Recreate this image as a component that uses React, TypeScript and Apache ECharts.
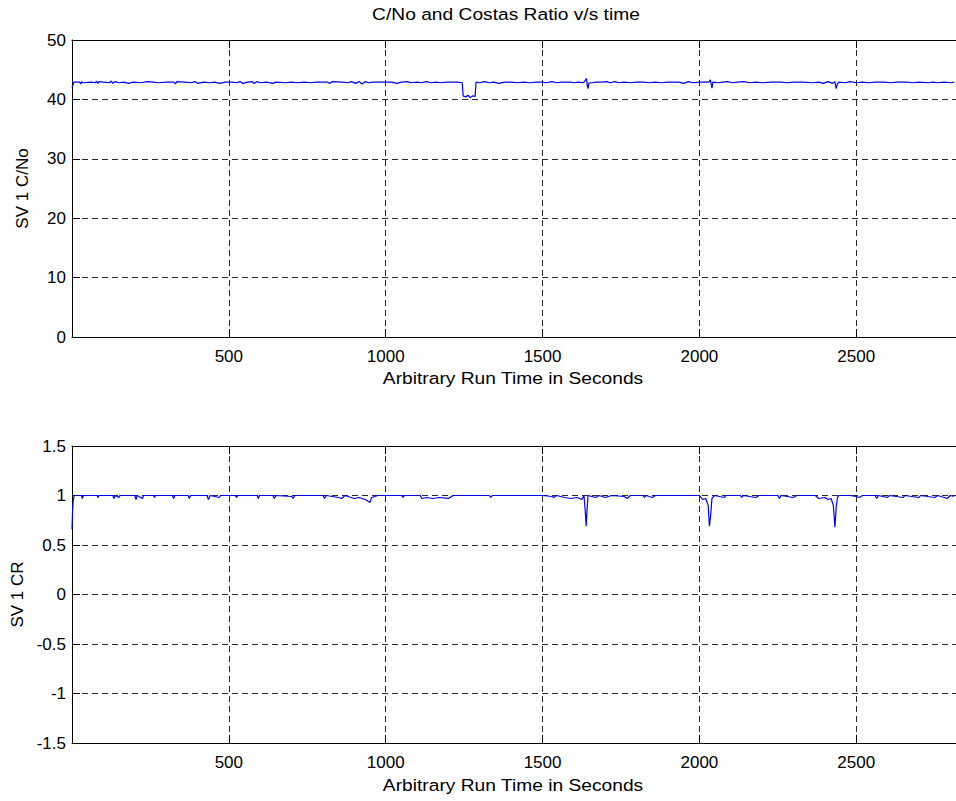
import React, { useEffect, useRef } from "react";
import * as echarts from "echarts";

const titleText = "C/No and Costas Ratio v/s time";
const xName = "Arbitrary Run Time in Seconds";
const topYName = "SV 1 C/No";
const bottomYName = "SV 1 CR";

const xTickStep = 500;
const xMin = 0;
const xMax = 2818;
const topYRange = [0, 50];
const topYStep = 10;
const bottomYRange = [-1.5, 1.5];
const bottomYStep = 0.5;

const cnoTime = [
  0, 3, 6, 25, 28, 31, 34, 60, 75, 78, 82, 86, 100, 120, 125, 130, 138, 150, 165, 180,
  195, 220, 240, 260, 275, 300, 325, 330, 334, 360, 380, 392, 400, 420, 440, 455, 470, 490, 510, 525,
  535, 545, 560, 575, 580, 590, 600, 620, 640, 650, 680, 700, 720, 740, 760, 780, 815, 822, 830, 860,
  880, 890, 905, 915, 925, 935, 945, 960, 1000, 1020, 1035, 1050, 1070, 1080, 1100, 1115, 1130, 1145, 1160, 1175,
  1195, 1230, 1244, 1247, 1255, 1262, 1270, 1278, 1285, 1288, 1300, 1315, 1330, 1345, 1360, 1380, 1400, 1420, 1440, 1460,
  1480, 1500, 1510, 1530, 1545, 1560, 1590, 1600, 1615, 1630, 1640, 1643, 1645, 1648, 1660, 1670, 1690, 1705, 1715, 1730,
  1745, 1760, 1780, 1800, 1820, 1840, 1860, 1880, 1900, 1935, 1950, 1965, 1980, 2000, 2030, 2035, 2040, 2043, 2060, 2075,
  2090, 2105, 2120, 2140, 2160, 2180, 2200, 2230, 2260, 2280, 2300, 2330, 2360, 2380, 2395, 2410, 2425, 2432, 2436, 2440,
  2445, 2465, 2480, 2500, 2520, 2540, 2560, 2590, 2610, 2630, 2660, 2680, 2700, 2730, 2745, 2760, 2780, 2800, 2812,
];
const cnoValue = [
  42.0, 42.4, 42.9, 42.9, 42.6, 43.0, 42.8, 42.9, 42.8, 43.1, 42.7, 43.0, 42.9, 42.8, 43.1, 42.7, 43.0, 42.8, 42.9, 42.7,
  42.9, 42.8, 43.0, 42.9, 42.8, 42.9, 42.9, 42.6, 43.0, 42.9, 42.8, 43.0, 42.7, 42.9, 42.8, 42.9, 42.7, 42.9, 42.9, 42.8,
  43.0, 42.7, 42.9, 43.0, 42.7, 43.0, 42.8, 42.9, 42.7, 42.9, 42.8, 42.9, 42.8, 42.9, 42.8, 42.9, 42.9, 42.7, 43.0, 42.9,
  42.8, 43.0, 42.7, 43.0, 42.6, 43.0, 42.8, 42.9, 42.9, 42.9, 42.7, 42.9, 43.0, 42.8, 42.9, 42.8, 43.0, 42.8, 42.9, 42.8,
  42.9, 42.9, 42.8, 40.6, 40.4, 40.7, 40.3, 40.6, 40.5, 42.9, 42.8, 43.0, 42.8, 42.9, 42.7, 42.9, 42.9, 42.8, 42.9, 42.8,
  42.9, 42.9, 42.8, 43.0, 42.8, 42.9, 42.9, 42.8, 42.9, 42.8, 43.5, 42.2, 41.8, 42.8, 42.8, 42.9, 42.9, 43.0, 42.8, 43.0,
  42.8, 42.9, 42.8, 42.9, 42.9, 42.8, 42.9, 42.8, 42.9, 42.9, 42.7, 43.0, 42.8, 42.9, 42.9, 43.3, 41.9, 42.9, 42.8, 42.9,
  43.0, 42.8, 42.9, 43.0, 42.8, 42.9, 42.8, 42.9, 42.9, 42.8, 42.9, 42.9, 42.8, 42.9, 42.7, 43.0, 42.7, 43.0, 41.8, 42.6,
  42.9, 42.8, 43.0, 42.8, 42.9, 42.8, 42.9, 42.9, 42.8, 42.9, 42.9, 42.8, 42.9, 42.8, 42.9, 42.8, 42.9, 42.8, 42.9,
];

const crTime = [
  0, 2, 4, 7, 30, 33, 36, 80, 83, 86, 130, 134, 138, 150, 153, 200, 204, 208, 225, 228,
  260, 263, 266, 320, 324, 328, 370, 374, 378, 430, 435, 440, 470, 473, 520, 525, 528, 590, 594, 598,
  640, 645, 650, 700, 705, 710, 800, 805, 810, 850, 860, 870, 900, 915, 935, 950, 955, 975, 1050, 1055,
  1060, 1110, 1115, 1130, 1150, 1170, 1200, 1215, 1250, 1300, 1330, 1335, 1340, 1400, 1450, 1500, 1530, 1535, 1545, 1570,
  1590, 1610, 1625, 1632, 1636, 1639, 1642, 1645, 1670, 1680, 1700, 1720, 1760, 1770, 1780, 1820, 1825, 1830, 1850, 1860,
  1900, 1950, 2000, 2010, 2020, 2028, 2032, 2036, 2040, 2048, 2080, 2085, 2130, 2135, 2140, 2180, 2190, 2250, 2255, 2260,
  2300, 2310, 2370, 2380, 2400, 2410, 2420, 2427, 2432, 2436, 2440, 2445, 2480, 2500, 2510, 2520, 2560, 2565, 2570, 2600,
  2605, 2650, 2655, 2700, 2705, 2750, 2760, 2790, 2800, 2812,
];
const crValue = [
  0.66, 0.86, 0.95, 1.0, 1.0, 0.97, 1.0, 1.0, 0.98, 1.0, 1.0, 0.97, 1.0, 0.98, 1.0, 1.0, 0.96, 1.0, 0.97, 1.0,
  1.0, 0.98, 1.0, 1.0, 0.97, 1.0, 1.0, 0.97, 1.0, 1.0, 0.96, 1.0, 0.98, 1.0, 1.0, 0.98, 1.0, 1.0, 0.97, 1.0,
  1.0, 0.97, 1.0, 0.99, 0.97, 1.0, 1.0, 0.97, 1.0, 0.98, 0.97, 1.0, 0.97, 0.98, 0.96, 0.93, 0.98, 1.0, 1.0, 0.98,
  1.0, 1.0, 0.97, 0.98, 0.97, 0.98, 0.97, 1.0, 1.0, 1.0, 1.0, 0.98, 1.0, 1.0, 1.0, 1.0, 0.99, 0.98, 1.0, 0.98,
  0.97, 0.98, 0.96, 1.0, 0.85, 0.69, 0.86, 1.0, 0.98, 1.0, 0.98, 1.0, 0.99, 0.97, 1.0, 1.0, 0.98, 1.0, 0.98, 1.0,
  1.0, 1.0, 1.0, 0.96, 0.97, 0.9, 0.69, 0.8, 0.97, 1.0, 0.98, 1.0, 1.0, 0.98, 1.0, 0.98, 1.0, 1.0, 0.97, 1.0,
  0.98, 1.0, 1.0, 0.97, 0.98, 0.96, 0.97, 0.9, 0.68, 0.88, 0.98, 1.0, 1.0, 0.99, 0.98, 1.0, 1.0, 0.97, 1.0, 0.98,
  1.0, 0.98, 1.0, 0.98, 1.0, 0.98, 1.0, 0.97, 1.0, 0.99,
];

const FONT = "'Liberation Sans', Arial, Helvetica, sans-serif";
const FS = 17;
const STRETCH = 1.13;

function pairs(t: number[], v: number[]) {
  return t.map((x, i) => [x, v[i]]);
}

export default function App() {
  const ref = useRef<HTMLDivElement>(null);

  useEffect(() => {
    if (!ref.current) return;
    const chart = echarts.init(ref.current, undefined, { renderer: "svg" });

    const gridLeft = 72;
    const gridWidth = 885;
    const grids = [
      { left: gridLeft, top: 40, width: gridWidth, height: 297 },
      { left: gridLeft, top: 446, width: gridWidth, height: 297 },
    ];

    const splitLine = {
      show: true,
      lineStyle: { color: "#2a2a2a", type: [6, 4] as any, width: 1 },
    };
    const axisLine = { show: true, onZero: false, lineStyle: { color: "#000", width: 1 } };
    const axisTick = { show: true, inside: true, length: 8, lineStyle: { color: "#000", width: 1 } };
    const xLabelFmt = (v: number) => (v > 0 && v % xTickStep === 0 ? String(v) : "");

    const bottomX = (gi: number) => ({
      type: "value",
      gridIndex: gi,
      position: "bottom",
      min: xMin,
      max: xMax,
      interval: xTickStep,
      axisLine,
      axisTick,
      splitLine,
      axisLabel: {
        formatter: xLabelFmt,
        showMinLabel: false,
        showMaxLabel: false,
        color: "#000",
        fontFamily: FONT,
        fontSize: FS,
        margin: 11,
      },
    });
    const topX = (gi: number) => ({
      type: "value",
      gridIndex: gi,
      position: "top",
      min: xMin,
      max: xMax,
      interval: xTickStep,
      axisLine,
      axisTick,
      splitLine: { show: false },
      axisLabel: { show: false },
    });

    const yAxis = (gi: number, range: number[], step: number, name: string) => ({
      type: "value",
      gridIndex: gi,
      position: "left",
      min: range[0],
      max: range[1],
      interval: step,
      axisLine,
      axisTick,
      splitLine,
      axisLabel: { color: "#000", fontFamily: FONT, fontSize: FS, margin: 6 },
      name,
      nameLocation: "middle",
      nameGap: 41,
      nameTextStyle: { color: "#000", fontFamily: FONT, fontSize: FS },
    });

    const stretchedText = (text: string, x: number, y: number) => ({
      type: "text",
      x,
      y,
      scaleX: STRETCH,
      style: {
        text,
        fill: "#000",
        font: `${FS}px ${FONT}`,
        textAlign: "center",
        textVerticalAlign: "middle",
      },
    });

    chart.setOption({
      animation: false,
      backgroundColor: "#fff",
      grid: grids,
      graphic: [
        stretchedText(titleText, 506, 14),
        stretchedText(xName, 513, 378),
        stretchedText(xName, 513, 785),
      ],
      xAxis: [bottomX(0), topX(0), bottomX(1), topX(1)],
      yAxis: [
        yAxis(0, topYRange, topYStep, topYName),
        yAxis(1, bottomYRange, bottomYStep, bottomYName),
      ],
      series: [
        {
          type: "line",
          xAxisIndex: 0,
          yAxisIndex: 0,
          data: pairs(cnoTime, cnoValue),
          showSymbol: false,
          symbol: "none",
          lineStyle: { color: "#0000ff", width: 1.2 },
          clip: true,
        },
        {
          type: "line",
          xAxisIndex: 2,
          yAxisIndex: 1,
          data: pairs(crTime, crValue),
          showSymbol: false,
          symbol: "none",
          lineStyle: { color: "#0000ff", width: 1.2 },
          clip: true,
        },
      ],
    });

    return () => chart.dispose();
  }, []);

  return (
    <div
      ref={ref}
      style={{ position: "absolute", left: 0, top: 0, width: 956, height: 801, overflow: "hidden" }}
    />
  );
}
